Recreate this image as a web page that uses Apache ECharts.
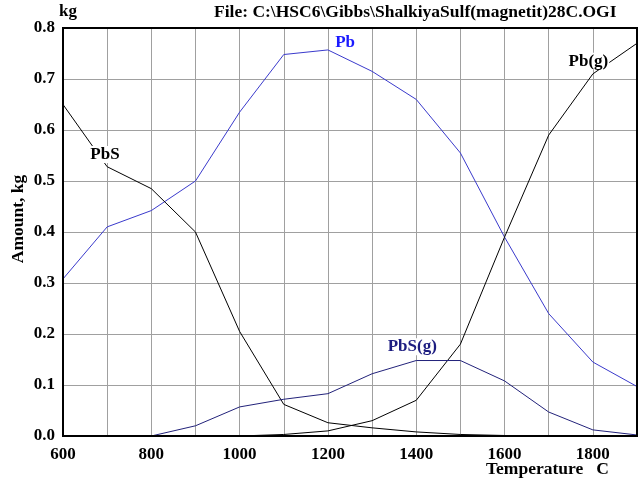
<!DOCTYPE html>
<html>
<head>
<meta charset="utf-8">
<script src="https://cdn.jsdelivr.net/npm/echarts@6/dist/echarts.min.js"></script>
<style>
  html, body { margin: 0; padding: 0; background: #fff; }
  #chart { width: 643px; height: 482px; }
</style>
</head>
<body>
<div id="chart"></div>
<script>
// temperatures, C
const temps = [600, 700, 800, 900, 1000, 1100, 1200, 1300, 1400, 1500, 1600, 1700, 1800, 1900];
// amounts, kg
const pb     = [0.308, 0.41, 0.442, 0.50, 0.635, 0.748, 0.757, 0.715, 0.66, 0.555, 0.39, 0.24, 0.145, 0.097];
const pbs    = [0.65, 0.528, 0.485, 0.40, 0.205, 0.062, 0.026, 0.016, 0.008, 0.003, 0.001, 0, 0, 0];
const pbGas  = [0, 0, 0, 0, 0, 0.003, 0.01, 0.03, 0.07, 0.18, 0.39, 0.59, 0.71, 0.77];
const pbsGas = [0, 0, 0, 0.02, 0.057, 0.072, 0.083, 0.122, 0.148, 0.148, 0.108, 0.047, 0.012, 0.002];
const yTicks = [0, 0.1, 0.2, 0.3, 0.4, 0.5, 0.6, 0.7, 0.8];

const font = '"Liberation Serif", "Times New Roman", serif';

function pairs(vals) {
  return temps.map((t, i) => [t, vals[i]]);
}

// label sitting on the curve with white box behind it
function tag(text, x, y, color) {
  return {
    symbol: 'circle',
    symbolSize: 1,
    itemStyle: { color: 'rgba(0,0,0,0)' },
    data: [{
      coord: [x, y],
      label: {
        show: true,
        position: 'inside',
        formatter: text,
        color: color,
        fontFamily: font,
        fontWeight: 'bold',
        fontSize: 17,
        backgroundColor: '#fff',
        padding: [0, 1]
      }
    }]
  };
}

function line(name, vals, color, lbl) {
  return {
    name: name,
    type: 'line',
    data: pairs(vals),
    symbol: 'none',
    animation: false,
    lineStyle: { color: color, width: 1 },
    markPoint: lbl
  };
}

let myChart = echarts.init(document.getElementById('chart'));
let option = {
  backgroundColor: '#fff',
  animation: false,
  grid: { left: 63, right: 6, top: 28, bottom: 46 },
  xAxis: {
    type: 'value',
    min: 600,
    max: 1900,
    interval: 100,
    axisLine: { show: true, lineStyle: { color: '#000', width: 2 } },
    axisTick: { show: false },
    splitLine: { show: true, lineStyle: { color: '#a0a0a0', width: 1 } },
    axisLabel: {
      color: '#000',
      fontFamily: font,
      fontWeight: 'bold',
      fontSize: 17,
      margin: 10,
      formatter: v => ((v - 600) % 200 === 0 && v < 1900) ? String(v) : ''
    }
  },
  yAxis: {
    type: 'value',
    min: yTicks[0],
    max: yTicks[yTicks.length - 1],
    interval: 0.1,
    axisLine: { show: true, lineStyle: { color: '#000', width: 2 } },
    axisTick: { show: false },
    splitLine: { show: true, lineStyle: { color: '#a0a0a0', width: 1 } },
    axisLabel: {
      color: '#000',
      fontFamily: font,
      fontWeight: 'bold',
      fontSize: 17,
      margin: 8,
      formatter: v => v.toFixed(1)
    }
  },
  graphic: [
    { type: 'rect', shape: { x: 63, y: 28, width: 574, height: 408 },
      style: { fill: 'none', stroke: '#000', lineWidth: 2 }, z: 10 },
    { type: 'text', left: 59, top: 3,
      style: { text: 'kg', font: 'bold 17px ' + font, fill: '#000' } },
    { type: 'text', left: 214, top: 3,
      style: { text: 'File: C:\\HSC6\\Gibbs\\ShalkiyaSulf(magnetit)28C.OGI', font: 'bold 17.5px ' + font, fill: '#000' } },
    { type: 'text', left: 486, top: 460,
      style: { text: 'Temperature   C', font: 'bold 17.5px ' + font, fill: '#000' } },
    { type: 'text', x: 18, y: 219, rotation: Math.PI / 2,
      style: { text: 'Amount, kg', font: 'bold 17.5px ' + font, fill: '#000', align: 'center', verticalAlign: 'middle' } }
  ],
  series: [
    line('Pb', pb, '#3a3acc', tag('Pb', 1239, 0.772, '#1a1aff')),
    line('PbS', pbs, '#000', tag('PbS', 695, 0.552, '#000')),
    line('Pb(g)', pbGas, '#000', tag('Pb(g)', 1790, 0.735, '#000')),
    line('PbS(g)', pbsGas, '#22227a', tag('PbS(g)', 1391, 0.175, '#1c1c80'))
  ]
};
option && myChart.setOption(option);
</script>
</body>
</html>
